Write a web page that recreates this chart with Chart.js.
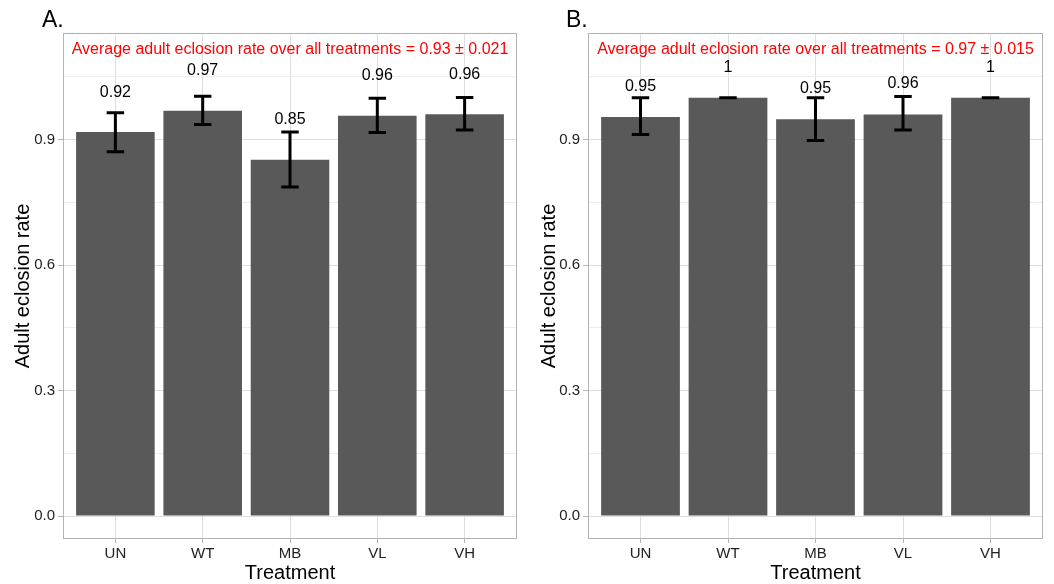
<!DOCTYPE html>
<html>
<head>
<meta charset="utf-8">
<script src="https://cdn.jsdelivr.net/npm/chart.js@4"></script>
<style>
  html, body { margin: 0; padding: 0; background: #ffffff; }
  #wrap { position: relative; width: 1054px; height: 584px; overflow: hidden; }
  canvas { position: absolute; top: 0; }
  #cA { left: 0; }
  #cB { left: 527px; }
</style>
</head>
<body>
<div id="wrap">
  <canvas id="cA" width="527" height="584"></canvas>
  <canvas id="cB" width="527" height="584"></canvas>
</div>
<script>
// ---------- data ----------
const categories = ['UN', 'WT', 'MB', 'VL', 'VH'];

const meanA   = [0.918, 0.969, 0.852, 0.957, 0.961];
const lowA    = [0.871, 0.936, 0.787, 0.917, 0.923];
const highA   = [0.964, 1.004, 0.918, 0.999, 1.001];
const labelsA = ['0.92', '0.97', '0.85', '0.96', '0.96'];
const noteA   = 'Average adult eclosion rate over all treatments = 0.93 \u00b1 0.021';

const meanB   = [0.954, 1.000, 0.949, 0.960, 1.000];
const lowB    = [0.912, 1.000, 0.898, 0.923, 1.000];
const highB   = [1.000, 1.000, 1.000, 1.003, 1.000];
const labelsB = ['0.95', '1', '0.95', '0.96', '1'];
const noteB   = 'Average adult eclosion rate over all treatments = 0.97 \u00b1 0.015';

const yTickValues = [0, 0.15, 0.3, 0.45, 0.6, 0.75, 0.9, 1.05];
const yMajorTicks = [0, 0.3, 0.6, 0.9];

// ---------- styling ----------
const FONT = '"Liberation Sans", Arial, Helvetica, sans-serif';
const BAR = '#595959';
const GRID_MAJOR = '#DEDEDE';
const GRID_MINOR = '#EDEDED';
const BORDER = '#B3B3B3';

function isMajor(v) {
  return yMajorTicks.some(m => Math.abs(m - v) < 1e-9);
}

function makeChart(id, cfg) {
  const overlay = {
    id: 'overlay' + id,
    afterDatasetsDraw(chart) {
      const ctx = chart.ctx;
      const x = chart.scales.x, y = chart.scales.y;
      const ca = chart.chartArea;
      ctx.save();
      // error bars
      ctx.strokeStyle = '#000000';
      ctx.lineWidth = 3;
      ctx.lineCap = 'butt';
      cfg.mean.forEach((m, i) => {
        const cx = x.getPixelForValue(i + 1);
        const hw = x.getPixelForValue(i + 1 + 0.1) - cx;
        const yl = y.getPixelForValue(cfg.low[i]);
        const yh = y.getPixelForValue(cfg.high[i]);
        ctx.beginPath();
        ctx.moveTo(cx, yl); ctx.lineTo(cx, yh);
        ctx.moveTo(cx - hw, yl); ctx.lineTo(cx + hw, yl);
        ctx.moveTo(cx - hw, yh); ctx.lineTo(cx + hw, yh);
        ctx.stroke();
      });
      // value labels
      ctx.fillStyle = '#000000';
      ctx.font = '16px ' + FONT;
      ctx.textAlign = 'center';
      ctx.textBaseline = 'middle';
      cfg.mean.forEach((m, i) => {
        ctx.fillText(cfg.labels[i], x.getPixelForValue(i + 1), y.getPixelForValue(m + cfg.labelOffset));
      });
      // annotation
      ctx.fillStyle = '#FF0000';
      ctx.font = '16px ' + FONT;
      ctx.fillText(cfg.note, (ca.left + ca.right) / 2, y.getPixelForValue(1.115));
      ctx.restore();
    },
    afterDraw(chart) {
      const ctx = chart.ctx;
      const ca = chart.chartArea;
      ctx.save();
      // panel border
      ctx.strokeStyle = BORDER;
      ctx.lineWidth = 1;
      ctx.strokeRect(Math.round(ca.left) + 0.5, Math.round(ca.top) + 0.5,
                     Math.round(ca.right - ca.left) - 1, Math.round(ca.bottom - ca.top) - 1);
      // panel letter
      ctx.fillStyle = '#000000';
      ctx.font = '23px ' + FONT;
      ctx.textAlign = 'left';
      ctx.textBaseline = 'alphabetic';
      ctx.fillText(cfg.letter, cfg.letterX, 27);
      // x title
      ctx.font = '20px ' + FONT;
      ctx.textAlign = 'center';
      ctx.textBaseline = 'middle';
      ctx.fillText('Treatment', (ca.left + ca.right) / 2, 573);
      // y title
      ctx.translate(cfg.yTitleX, (ca.top + ca.bottom) / 2);
      ctx.rotate(-Math.PI / 2);
      ctx.font = '20px ' + FONT;
      ctx.fillText('Adult eclosion rate', 0, 0);
      ctx.restore();
    }
  };

  return new Chart(document.getElementById(id), {
    type: 'bar',
    data: {
      datasets: [{
        data: cfg.mean.map((v, i) => ({ x: i + 1, y: v })),
        backgroundColor: BAR,
        borderWidth: 0,
        barPercentage: 0.9,
        categoryPercentage: 1.0
      }]
    },
    options: {
      responsive: false,
      animation: false,
      devicePixelRatio: 1,
      layout: { padding: { left: 0, top: 33, right: cfg.padRight, bottom: 0 } },
      plugins: { legend: { display: false }, tooltip: { enabled: false }, title: { display: false } },
      scales: {
        x: {
          type: 'linear',
          offset: false,
          min: 0.4,
          max: 5.6,
          afterFit(s) { s.height = 45; },
          afterBuildTicks(s) { s.ticks = categories.map((c, i) => ({ value: i + 1 })); },
          border: { display: false },
          grid: { offset: false, color: GRID_MAJOR, lineWidth: 1, tickLength: 4, tickColor: BORDER },
          ticks: {
            autoSkip: false,
            maxRotation: 0,
            padding: 2,
            color: '#222222',
            font: { family: FONT, size: 15 },
            callback: (v) => categories[Math.round(v) - 1]
          }
        },
        y: {
          type: 'linear',
          min: -0.055,
          max: 1.155,
          afterFit(s) { s.width = cfg.yWidth; },
          afterBuildTicks(s) { s.ticks = yTickValues.map(v => ({ value: v })); },
          border: { display: false },
          grid: {
            color: (c) => (c.tick && isMajor(c.tick.value)) ? GRID_MAJOR : GRID_MINOR,
            lineWidth: 1,
            tickLength: 5,
            tickColor: (c) => (c.tick && isMajor(c.tick.value)) ? BORDER : 'rgba(0,0,0,0)'
          },
          ticks: {
            autoSkip: false,
            padding: 3,
            color: '#222222',
            font: { family: FONT, size: 15 },
            callback: (v) => isMajor(v) ? v.toFixed(1) : ''
          }
        }
      }
    },
    plugins: [overlay]
  });
}

makeChart('cA', {
  mean: meanA, low: lowA, high: highA, labels: labelsA, note: noteA,
  labelOffset: 0.095, letter: 'A.', letterX: 42, yTitleX: 23, yWidth: 63, padRight: 10
});
makeChart('cB', {
  mean: meanB, low: lowB, high: highB, labels: labelsB, note: noteB,
  labelOffset: 0.073, letter: 'B.', letterX: 39, yTitleX: 22, yWidth: 61, padRight: 11
});
</script>
</body>
</html>
